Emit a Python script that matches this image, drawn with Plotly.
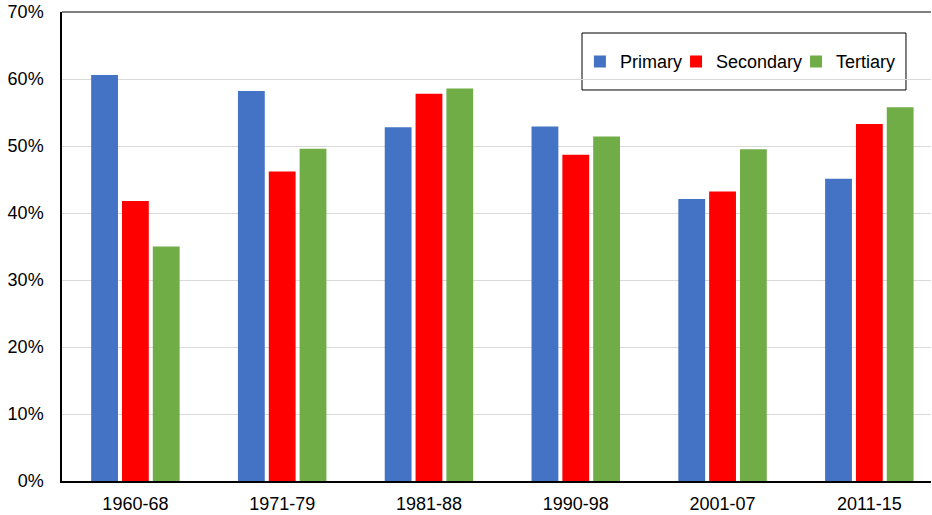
import plotly.graph_objects as go

periods = ["1960-68", "1971-79", "1981-88", "1990-98", "2001-07", "2011-15"]
primary = [0.606, 0.582, 0.528, 0.529, 0.421, 0.451]
secondary = [0.418, 0.462, 0.578, 0.487, 0.432, 0.533]
tertiary = [0.350, 0.496, 0.586, 0.514, 0.495, 0.558]

series = [
    ("Primary", primary, "#4472C4", "legend", 0.596),
    ("Secondary", secondary, "#FF0000", "legend2", 0.7066),
    ("Tertiary", tertiary, "#70AD47", "legend3", 0.8447),
]

fig = go.Figure()
legends = {}
for name, vals, color, leg, lx in series:
    fig.add_trace(go.Bar(
        x=periods, y=vals, name=name, legend=leg, showlegend=True,
        marker=dict(color=color, line=dict(width=0)),
    ))
    # one legend per series so each entry can sit where the original has it
    legends[leg] = dict(
        x=lx, y=0.894, xanchor="left", yanchor="middle",
        borderwidth=0, bgcolor="rgba(0,0,0,0)", font=dict(size=18),
    )

fig.update_layout(
    width=932, height=515,
    showlegend=True,
    margin=dict(l=62, r=1, t=12, b=34, autoexpand=False),
    paper_bgcolor="white", plot_bgcolor="white",
    barmode="group", bargap=0.37, bargroupgap=0.13,
    font=dict(family="Arial, Liberation Sans", size=18, color="#000000"),
    xaxis=dict(
        type="category", range=[-0.5, 5.42],  # original is cropped at the right
        showline=True, linecolor="#000000", linewidth=1.5, mirror=False,
        ticks="", tickfont=dict(size=18), ticklabelstandoff=6,
    ),
    yaxis=dict(
        range=[0, 0.7], dtick=0.1, tickformat=".0%",
        showgrid=True, gridcolor="#D9D9D9", gridwidth=1,
        showline=True, linecolor="#000000", linewidth=1.5,
        ticks="", tickfont=dict(size=18), zeroline=False,
        ticklabelstandoff=13,
    ),
    shapes=[
        dict(type="line", xref="paper", yref="paper", x0=0, x1=1, y0=1, y1=1,
             line=dict(color="#555555", width=1.5)),
        # legend frame
        dict(type="rect", xref="paper", yref="paper",
             x0=0.5984, x1=0.9712, y0=0.8337, y1=0.9552,
             line=dict(color="#000000", width=1), fillcolor="white", layer="below"),
    ],
    **legends,
)

fig.write_html(
    "out.html",
    config={"displayModeBar": False},
    post_script="document.body.style.margin='0';",
)
